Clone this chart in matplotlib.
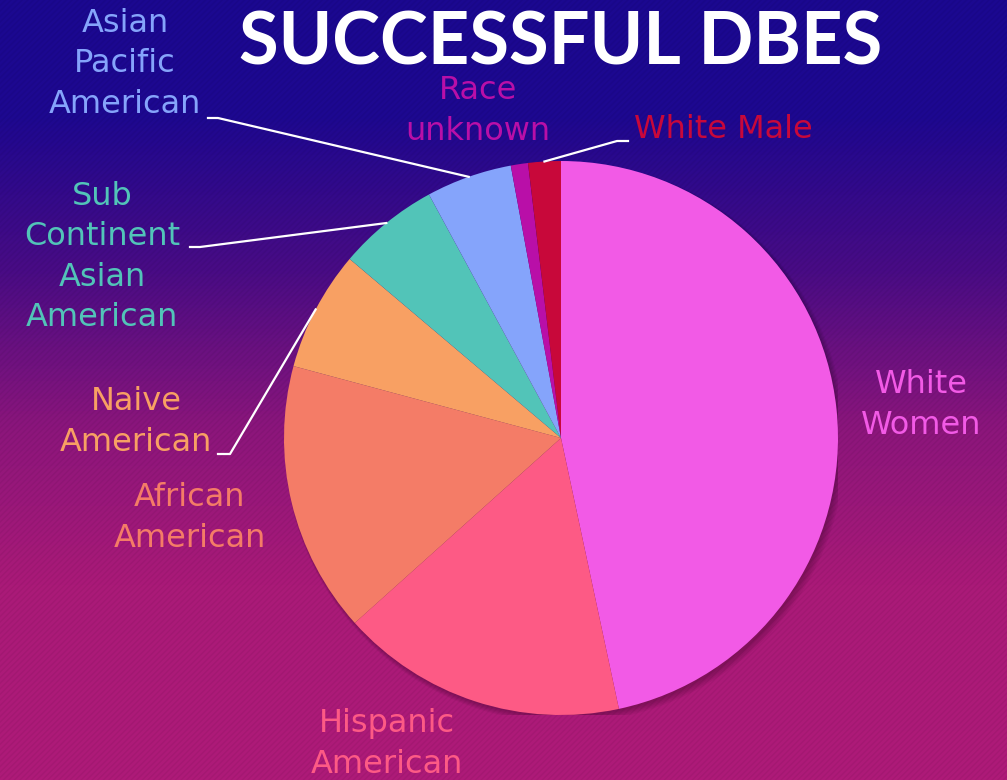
import numpy as np
import matplotlib
matplotlib.use("Agg")
import matplotlib.pyplot as plt
from matplotlib.colors import LinearSegmentedColormap

# data (percent of successful DBEs)
groups = ["White\nWomen", "Hispanic\nAmerican", "African\nAmerican", "Naive\nAmerican",
          "Sub\nContinent\nAsian\nAmerican", "Asian\nPacific\nAmerican", "Race\nunknown", "White Male"]
shares = [46.6, 16.7, 15.8, 7.0, 5.9, 5.0, 1.0, 1.9]
colors = ["#f25ae6", "#fd5a85", "#f47c67", "#f8a063", "#52c4b8", "#85a4fb", "#b90fa8", "#c8083a"]

W, H = 1007, 780
fig = plt.figure(figsize=(W / 100, H / 100), dpi=100)

# background gradient
bg = fig.add_axes([0, 0, 1, 1], zorder=0)
cmap = LinearSegmentedColormap.from_list("bg", [(0, "#1b0890"), (0.15, "#1e0890"), (0.35, "#4a0c85"),
                                                (0.55, "#8c167c"), (0.75, "#aa1a78"), (1, "#ae1a78")])
grad = np.linspace(0, 1, 256).reshape(-1, 1)
bg.imshow(grad, cmap=cmap, aspect="auto", extent=[0, 1, 0, 1], origin="upper")
bg.fill_between([0, 1], 0, 1, facecolor="none", edgecolor=(0, 0, 0, 0.05), hatch="//////", lw=0)
bg.set_xlim(0, 1)
bg.set_ylim(0, 1)
bg.axis("off")

fig.text(561 / W, 1 - 44 / H, "SUCCESSFUL DBES", color="white", fontsize=52,
         ha="center", va="center", family="Lato", fontweight="bold")

# pie: centre (561, 438) px, radius 277 px
cx, cy, r = 561, 438, 277
ax = fig.add_axes([(cx - r) / W, (H - cy - r) / H, 2 * r / W, 2 * r / H], zorder=1)
ax.axis("off")

# soft shadow
for k in range(5):
    ax.add_patch(plt.Circle((0.006 + k * 0.002, -0.008 - k * 0.002), 1.0 + k * 0.003,
                            color="black", alpha=0.05, lw=0))

wedges, _ = ax.pie(shares, colors=colors, startangle=90, counterclock=False, radius=1,
                   wedgeprops=dict(lw=0))
ax.set_xlim(-1, 1)
ax.set_ylim(-1, 1)
ax.set_aspect("equal")


def px(x, y):
    return (x - cx) / r, (cy - y) / r


label_pos = [(921, 405), (387, 744), (190, 518), (136, 422), (102, 257), (125, 64), (478, 111), (723, 129)]
for name, col, (lx, ly) in zip(groups, colors, label_pos):
    ax.text(*px(lx, ly), name, color=col, fontsize=23, ha="center", va="center",
            linespacing=1.38, clip_on=False)

# leader lines: (wedge index, kink point, line end next to label)
leaders = [(3, (230, 454), (218, 454)), (4, (200, 247), (190, 247)),
           (5, (218, 118), (208, 118)), (7, (617, 141), (628, 141))]
for i, kink, end in leaders:
    w = wedges[i]
    mid = np.deg2rad((w.theta1 + w.theta2) / 2)
    ex, ey = np.cos(mid), np.sin(mid)
    kx, ky = px(*kink)
    tx, ty = px(*end)
    ax.plot([ex, kx, tx], [ey, ky, ty], color="white", lw=1.6, clip_on=False, zorder=3)

fig.savefig("out.png", dpi=100)
